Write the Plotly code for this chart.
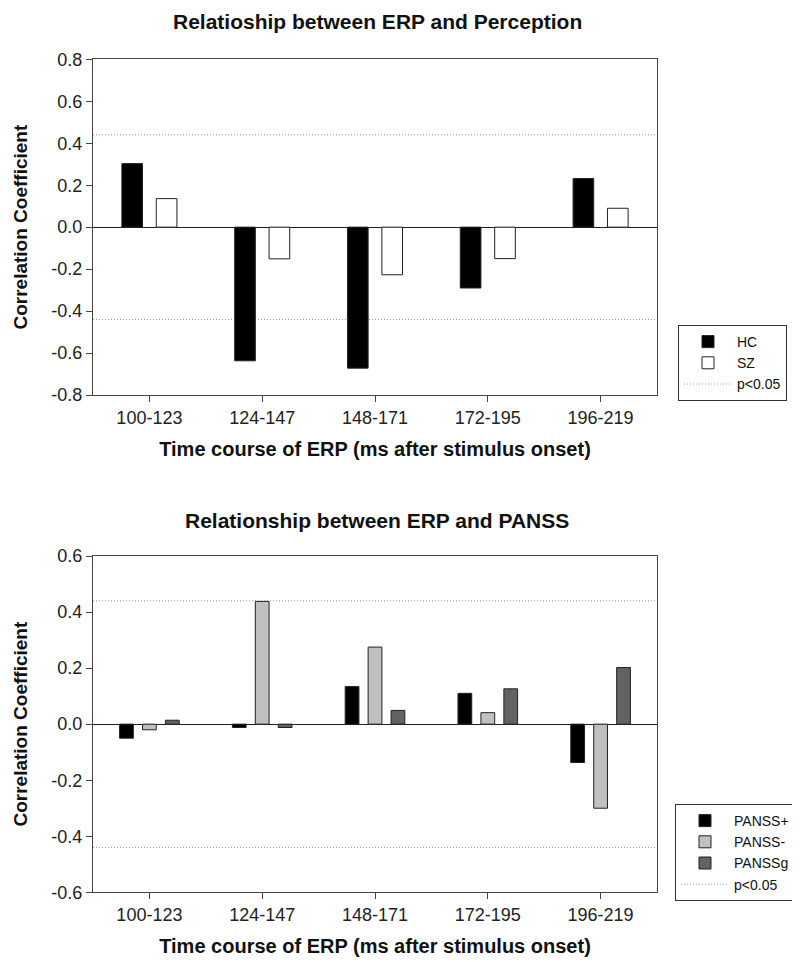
import plotly.graph_objects as go

# ---------------- data ----------------
CATEGORIES = ["100-123", "124-147", "148-171", "172-195", "196-219"]

HC = [0.303, -0.637, -0.672, -0.290, 0.232]
SZ = [0.136, -0.151, -0.227, -0.150, 0.090]

PANSS_POS = [-0.050, -0.012, 0.134, 0.110, -0.137]
PANSS_NEG = [-0.020, 0.438, 0.275, 0.041, -0.300]
PANSS_G = [0.014, -0.012, 0.049, 0.126, 0.202]

P_THRESHOLD = 0.44

TOP_TICKS = [-0.8, -0.6, -0.4, -0.2, 0.0, 0.2, 0.4, 0.6, 0.8]
TOP_TICK_TEXT = ["-0.8", "-0.6", "-0.4", "-0.2", "0.0", "0.2", "0.4", "0.6", "0.8"]
BOT_TICKS = [-0.6, -0.4, -0.2, 0.0, 0.2, 0.4, 0.6]
BOT_TICK_TEXT = ["-0.6", "-0.4", "-0.2", "0.0", "0.2", "0.4", "0.6"]

TITLE_TOP = "Relatioship between ERP and Perception"
TITLE_BOT = "Relationship between ERP and PANSS"
X_TITLE = "Time course of ERP (ms after stimulus onset)"
Y_TITLE = "Correlation Coefficient"

# ---------------- geometry (page body has an 8px margin) ----------------
OFF = 8
W, H = 800 - OFF, 962 - OFF


def px(x):
    return (x - OFF) / W


def py(y):
    return 1 - (y - OFF) / H


# ---------------- style ----------------
FONT = "Liberation Sans, Arial, sans-serif"
AXIS_COLOR = "#444444"
BAR_LINE = dict(color="#222222", width=1)

fig = go.Figure()

fig.add_trace(go.Bar(x=CATEGORIES, y=HC, name="HC", marker=dict(color="black", line=BAR_LINE),
                     xaxis="x", yaxis="y", legend="legend", offsetgroup="a"))
fig.add_trace(go.Bar(x=CATEGORIES, y=SZ, name="SZ", marker=dict(color="white", line=BAR_LINE),
                     xaxis="x", yaxis="y", legend="legend", offsetgroup="b"))

fig.add_trace(go.Bar(x=CATEGORIES, y=PANSS_POS, name="PANSS+", marker=dict(color="black", line=BAR_LINE),
                     xaxis="x2", yaxis="y2", legend="legend2", offsetgroup="c"))
fig.add_trace(go.Bar(x=CATEGORIES, y=PANSS_NEG, name="PANSS-", marker=dict(color="#c0c0c0", line=BAR_LINE),
                     xaxis="x2", yaxis="y2", legend="legend2", offsetgroup="d"))
fig.add_trace(go.Bar(x=CATEGORIES, y=PANSS_G, name="PANSSg", marker=dict(color="#636363", line=BAR_LINE),
                     xaxis="x2", yaxis="y2", legend="legend2", offsetgroup="e"))

DOT = dict(color="#9a9a9a", width=1, dash="1px,2px")

shapes = []
for xr, yr, leg in (("x domain", "y", "legend"), ("x2 domain", "y2", "legend2")):
    for i, yv in enumerate((P_THRESHOLD, -P_THRESHOLD)):
        shapes.append(dict(type="line", xref=xr, yref=yr, x0=0, x1=1, y0=yv, y1=yv,
                           line=DOT, layer="below", name="p<0.05",
                           showlegend=(i == 0), legend=leg))


def xaxis(anchor):
    return dict(
        type="category", anchor=anchor, domain=[px(93), px(657)], automargin=False,
        showline=True, mirror=True, linecolor=AXIS_COLOR, linewidth=1,
        ticks="outside", ticklen=6, tickcolor=AXIS_COLOR, showgrid=False,
        tickfont=dict(family=FONT, size=18, color="#222"),
        title=dict(text="<b>" + X_TITLE + "</b>", font=dict(family=FONT, size=20, color="#111"), standoff=15),
        range=[-0.5, 4.5],
    )


def yaxis(anchor, dom, rng, tv, tt):
    return dict(
        anchor=anchor, domain=dom, range=rng, tickvals=tv, ticktext=tt, automargin=False,
        showline=True, mirror=True, linecolor=AXIS_COLOR, linewidth=1,
        ticks="outside", ticklen=6, tickcolor=AXIS_COLOR, showgrid=False,
        zeroline=True, zerolinecolor="#222", zerolinewidth=1,
        tickfont=dict(family=FONT, size=18, color="#222"),
        title=dict(text="<b>" + Y_TITLE + "</b>", font=dict(family=FONT, size=19, color="#111"), standoff=18),
    )


top_dom = [py(395), py(59.3)]
bot_dom = [py(892.3), py(556)]

legend_style = dict(bordercolor="#333", borderwidth=1, bgcolor="white",
                    font=dict(family=FONT, size=14, color="#111"), itemwidth=48,
                    xanchor="left", yanchor="top", tracegroupgap=0)

fig.update_layout(
    width=W, height=H,
    margin=dict(l=0, r=0, t=0, b=0, autoexpand=False),
    paper_bgcolor="white", plot_bgcolor="white",
    font=dict(family=FONT),
    barmode="group", bargap=0.39, bargroupgap=0.4,
    xaxis=xaxis("y"), yaxis=yaxis("x", top_dom, [-0.8, 0.8], TOP_TICKS, TOP_TICK_TEXT),
    xaxis2=xaxis("y2"), yaxis2=yaxis("x2", bot_dom, [-0.6, 0.6], BOT_TICKS, BOT_TICK_TEXT),
    shapes=shapes,
    legend=dict(x=px(678), y=py(325), **legend_style),
    legend2=dict(x=px(675), y=py(804), **legend_style),
    annotations=[
        dict(text="<b>" + TITLE_TOP + "</b>", xref="paper", yref="paper", x=px(377), y=py(8.5),
             showarrow=False, font=dict(family=FONT, size=21, color="#111"), xanchor="center", yanchor="top"),
        dict(text="<b>" + TITLE_BOT + "</b>", xref="paper", yref="paper", x=px(377), y=py(507),
             showarrow=False, font=dict(family=FONT, size=21, color="#111"), xanchor="center", yanchor="top"),
    ],
)

fig.write_html("out.html")
